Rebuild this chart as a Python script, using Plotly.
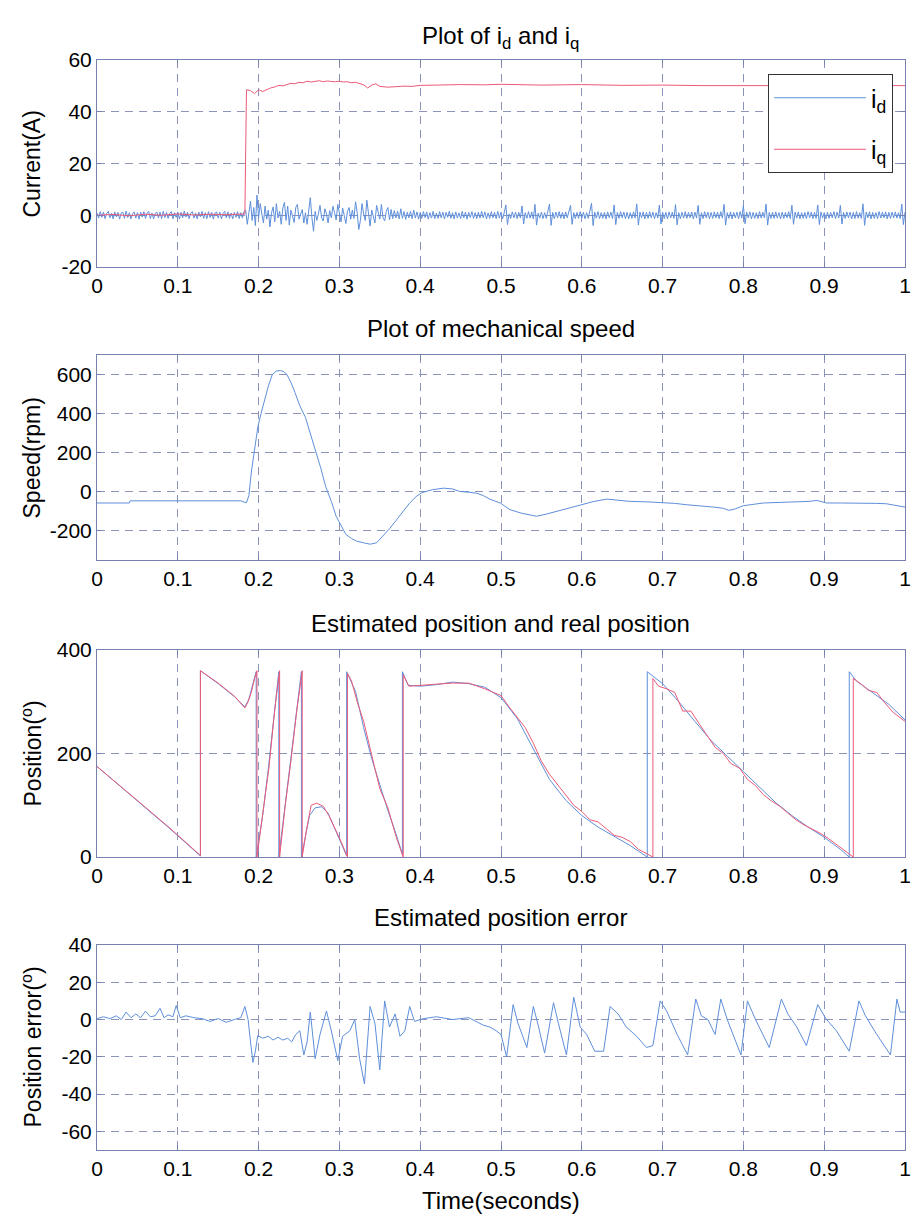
import numpy as np
import plotly.graph_objects as go

# ---------------- data ----------------
# i_d current, sampled every 0.002 s from 0 to 1 s (one row = 0.04 s)
I_D = [
    0.9, -1.1, 1.4, -0.8, 1.2, -1.3, 0.7, 1.5, -1.0, 0.8, -1.4, 1.3, -0.6, 1.1, -1.5, 0.9, 1.2, -1.2, 1.6, -0.9,
    1.0, -1.4, 0.6, 1.3, -1.1, 1.0, -1.5, 1.2, -0.7, 1.4, -1.2, 0.8, 1.5, -1.3, 0.9, -1.4, 0.6, 1.3, -1.0, 1.2,
    -1.3, 1.5, -0.9, 1.1, -1.2, 0.7, 1.4, -1.4, 1.0, -0.8, 1.3, -1.5, 1.1, -1.0, 1.6, -0.7, 1.2, -1.3, 0.8, 1.4,
    -1.1, 0.9, -1.4, 1.2, -0.6, 1.5, -1.2, 1.0, -1.3, 1.4, -0.9, 1.1, -1.5, 0.8, 1.3, -1.1, 1.2, -1.4, 0.7, 1.5,
    -1.0, 1.3, -1.2, 0.9, -1.4, 1.1, -0.8, 1.4, -1.3, 1.0, -1.1, 1.5, 2.0, -3.5, 1.0, 5.5, -2.0, 3.0, -4.0, 7.8,
    -1.0, 4.5, 0.5, -3.0, 3.5, -1.5, 2.0, -4.5, 1.0, 3.2, -2.5, 4.5, -1.0, 1.5, -3.5, 2.8, 5.0, -2.0, 3.5, -3.8,
    2.0, -1.0, -2.8, 3.0, 4.2, -1.5, 0.5, 2.2, -3.0, 1.0, -3.5, 2.5, 6.8, -1.0, -6.2, 1.5, -2.0, 0.5, 3.8, -1.0,
    -2.2, 2.5, 0.5, -3.0, 1.8, -1.0, 3.5, 1.0, -1.8, 4.2, 0.5, -2.5, 2.8, -1.0, -3.2, 1.5, 3.0, -1.5, 2.0, -1.2,
    5.2, 1.0, -5.5, -2.0, 4.5, 0.5, -2.0, 5.8, 1.0, -4.2, 2.0, -1.0, -3.0, 3.8, 0.5, -1.5, 4.2, -1.0, -2.2, 1.5,
    3.0, -1.8, 2.2, -1.3, 1.8, -1.0, 1.6, -1.4, 2.5, -1.2, 1.4, -1.6, 1.2, -1.0, 1.5, -1.3, 2.0, -1.1, 1.3, -1.5,
    1.1, -1.2, 1.4, -0.9, 1.3, -1.5, 1.0, -1.1, 1.5, -1.3, 0.8, -1.2, 1.4, -1.0, 1.2, -1.4, 1.1, -0.8, 1.5, -1.2,
    1.0, -1.4, 1.3, -1.1, 0.9, -1.3, 1.5, -1.0, 1.2, -1.5, 1.1, -0.9, 1.4, -1.2, 1.0, -1.3, 1.2, -1.1, 1.5, -1.0,
    1.3, -1.4, 0.9, -1.2, 1.4, -1.0, 1.1, -1.3, 1.5, -1.1, 1.2, -1.4, 1.0, 4.0, -3.6, 0.5, -1.2, 1.3, -1.0, 1.2,
    -1.3, 1.1, -1.0, 3.6, -3.4, 1.0, -1.2, 1.4, -1.1, 1.3, -1.4, 4.2, -3.8, 0.8, -1.1, 1.2, -1.3, 1.0, -1.2, 1.4,
    4.3, -3.9, 1.1, -1.3, 1.2, -1.0, 1.4, -1.2, 1.1, -1.4, 1.3, -1.0, 1.2, 3.8, -3.5, 1.0, -1.3, 1.1, -1.2, 1.4,
    -1.1, 1.2, -1.4, 1.0, -1.2, 1.3, 4.6, -4.0, 1.2, -1.1, 1.4, -1.3, 1.0, -1.2, 1.1, -1.4, 1.3, -1.0, 1.2, -1.3,
    4.0, -3.6, 1.1, -1.2, 1.4, -1.0, 1.2, -1.3, 1.1, -1.4, 1.0, -1.2, 1.3, -1.1, 4.4, -3.8, 1.2, -1.0, 1.3, -1.4,
    1.1, -1.2, 1.4, -1.0, 1.2, -1.3, 1.0, -1.1, 3.9, -3.4, 1.2, -1.3, 1.1, -1.4, 1.3, -1.0, 1.2, -1.2, 4.1, -3.7,
    1.0, -1.3, 1.2, -1.1, 1.4, -1.2, 1.1, -1.0, 1.3, -1.4, 1.2, -1.1, 3.8, -3.5, 1.0, -1.3, 1.4, -1.0, 1.2, -1.4,
    1.1, -1.2, 1.3, -1.0, 1.2, -1.3, 1.4, -1.1, 4.2, -3.8, 1.0, -1.2, 1.3, -1.4, 1.1, -1.0, 1.2, -1.3, 1.4, -1.1,
    3.7, -3.3, 1.2, -1.0, 1.3, -1.4, 1.1, -1.2, 1.0, -1.3, 1.4, -1.1, 1.2, -1.0, 4.3, -3.8, 1.1, -1.3, 1.2, -1.2,
    1.3, -1.1, 1.0, -1.4, 1.2, -1.2, 1.1, -1.0, 1.4, -1.3, 3.9, -3.5, 1.2, -1.1, 1.3, -1.4, 1.0, -1.2, 1.1, -1.3,
    1.4, -1.0, 1.2, -1.3, 1.1, -1.2, 4.0, -3.6, 1.3, -1.1, 1.0, -1.4, 1.2, -1.2, 1.1, -1.0, 1.4, -1.3, 1.2, -1.1,
    3.8, -3.4, 1.1, -1.2, 1.3, -1.0, 1.2, -1.4, 1.1, -1.3, 1.4, -1.1, 1.0, -1.2, 4.4, -3.9, 1.2, -1.0, 1.3, -1.4,
    1.1, -1.2, 1.0, -1.3, 1.4, -1.1, 1.2, -1.0, 1.3, -1.4, 1.1, -1.2, 1.2, -1.0, 1.3, -1.1, 1.0, -1.3, 4.3, -3.6,
    1.2,
]
T_ID = np.round(np.arange(len(I_D)) * 0.002, 3)

T_IQ = [0, 0.02, 0.04, 0.06, 0.08, 0.10, 0.12, 0.14, 0.16, 0.183, 0.185,
        0.19, 0.195, 0.2, 0.205, 0.21, 0.215, 0.22, 0.225, 0.23, 0.235,
        0.24, 0.245, 0.25, 0.255, 0.26, 0.265, 0.27, 0.275, 0.28, 0.285,
        0.29, 0.295, 0.3, 0.305, 0.31, 0.315, 0.32, 0.325, 0.33, 0.335,
        0.34, 0.345, 0.35, 0.36, 0.37, 0.38, 0.39, 0.4, 0.42, 0.45, 0.48,
        0.5, 0.55, 0.6, 0.65, 0.7, 0.75, 0.8, 0.85, 0.9, 0.95, 1.0]
I_Q = [0.0, 0.3, -0.2, 0.4, 0.0, 0.5, 0.1, 0.4, 0.2, 0.5, 48.5,
       48.2, 47.0, 48.5, 47.8, 48.6, 49.2, 49.6, 50.2, 50.0, 50.6,
       51.0, 50.8, 51.4, 51.2, 51.8, 51.5, 51.9, 52.0, 51.6, 51.9,
       51.7, 51.6, 51.8, 51.5, 51.6, 51.2, 51.4, 51.0, 50.4, 49.2,
       50.3, 50.8, 49.8, 49.5, 49.7, 49.9, 49.8, 50.2, 50.3, 50.5, 50.4,
       50.6, 50.3, 50.5, 50.2, 50.3, 50.1, 50.2, 50.1, 50.1, 50.0, 50.1]

T_SPD = [0, 0.02, 0.04, 0.041, 0.08, 0.12, 0.16, 0.178, 0.185, 0.188,
         0.191, 0.195, 0.199, 0.203, 0.207, 0.212, 0.217, 0.222, 0.227, 0.231,
         0.235, 0.24, 0.245, 0.251, 0.258, 0.264, 0.27, 0.277, 0.283, 0.29,
         0.296, 0.302, 0.308, 0.315, 0.321, 0.33, 0.338, 0.346, 0.354, 0.362,
         0.371, 0.379, 0.387, 0.395, 0.402, 0.415, 0.429, 0.44, 0.449, 0.46,
         0.47, 0.478, 0.486, 0.499, 0.511, 0.525, 0.544, 0.556, 0.569, 0.584,
         0.598, 0.615, 0.631, 0.645, 0.66, 0.68, 0.697, 0.715, 0.73, 0.75,
         0.763, 0.775, 0.782, 0.79, 0.8, 0.812, 0.825, 0.845, 0.866, 0.88,
         0.891, 0.897, 0.903, 0.92, 0.948, 0.965, 0.977, 0.99, 1.0]
SPD = [-58, -58, -58, -47, -47, -47, -47, -47, -57, -20,
       100, 212, 330, 400, 465, 540, 600, 618, 620, 615,
       600, 560, 508, 440, 380, 300, 212, 120, 26, -50,
       -126, -175, -219, -240, -253, -262, -269, -262, -227, -190,
       -143, -100, -58, -25, -5, 10, 18, 14, 1, -3,
       -8, -20, -38, -58, -92, -110, -126, -115, -100, -85,
       -67, -50, -38, -45, -50, -52, -55, -60, -67, -72,
       -79, -85, -96, -88, -72, -65, -58, -55, -53, -50,
       -45, -52, -58, -58, -58, -60, -62, -70, -79]

T_POS_REAL = [0, 0.03, 0.06, 0.09, 0.128, 0.128, 0.15, 0.17, 0.183, 0.188,
              0.193, 0.197, 0.197, 0.205, 0.212, 0.219, 0.225, 0.225, 0.232, 0.239,
              0.246, 0.253, 0.253, 0.258, 0.263, 0.27, 0.278, 0.286, 0.293, 0.3,
              0.309, 0.309, 0.32, 0.33, 0.34, 0.35, 0.36, 0.37, 0.378, 0.378,
              0.385, 0.4, 0.42, 0.44, 0.46, 0.48, 0.5, 0.52, 0.54, 0.56,
              0.58, 0.6, 0.62, 0.64, 0.66, 0.681, 0.681, 0.7, 0.72, 0.74,
              0.76, 0.78, 0.8, 0.82, 0.84, 0.86, 0.88, 0.9, 0.92, 0.931,
              0.931, 0.94, 0.96, 0.98, 1.0]
POS_REAL = [175, 135, 95, 55, 2, 360, 335, 310, 290, 305,
            335, 358, 0, 80, 170, 270, 358, 0, 90, 180,
            270, 358, 0, 40, 80, 95, 97, 85, 60, 35,
            2, 358, 320, 250, 190, 140, 90, 45, 5, 358,
            332, 330, 333, 338, 335, 328, 308, 268, 210, 150,
            110, 80, 58, 40, 22, 0, 358, 335, 300, 262,
            225, 195, 165, 135, 105, 80, 58, 38, 15, 0,
            358, 340, 318, 295, 265]

T_POS_EST = [0, 0.03, 0.06, 0.09, 0.128, 0.128, 0.15, 0.17, 0.183, 0.187,
             0.191, 0.195, 0.198, 0.198, 0.206, 0.213, 0.22, 0.226, 0.226, 0.233,
             0.24, 0.247, 0.254, 0.254, 0.259, 0.265, 0.272, 0.28, 0.287, 0.294,
             0.302, 0.31, 0.31, 0.315, 0.322, 0.33, 0.34, 0.35, 0.36, 0.37,
             0.379, 0.379, 0.386, 0.4, 0.42, 0.44, 0.46, 0.48, 0.5, 0.51,
             0.52, 0.53, 0.54, 0.55, 0.56, 0.57, 0.58, 0.59, 0.6, 0.61,
             0.62, 0.63, 0.64, 0.65, 0.66, 0.67, 0.688, 0.688, 0.695, 0.705,
             0.715, 0.725, 0.735, 0.745, 0.755, 0.765, 0.775, 0.785, 0.795, 0.805,
             0.815, 0.825, 0.835, 0.845, 0.855, 0.865, 0.875, 0.885, 0.895, 0.905,
             0.915, 0.925, 0.936, 0.936, 0.945, 0.955, 0.965, 0.975, 0.985, 1.0]
POS_EST = [175, 136, 96, 56, 3, 360, 336, 311, 288, 300,
           318, 345, 360, 0, 95, 175, 285, 360, 0, 100,
           185, 280, 360, 0, 50, 100, 104, 98, 80, 58,
           30, 0, 355, 340, 300, 262, 198, 132, 95, 40,
           0, 352, 330, 332, 334, 336, 336, 325, 312, 290,
           270, 250, 220, 185, 160, 140, 120, 100, 88, 72,
           68, 55, 42, 38, 30, 15, 0, 345, 330, 325,
           318, 282, 282, 258, 235, 212, 200, 180, 172, 150,
           138, 120, 108, 98, 85, 72, 62, 54, 46, 36,
           24, 12, 0, 345, 335, 322, 318, 298, 280, 262]

T_ERR = [0.000, 0.008, 0.016, 0.024, 0.030, 0.036, 0.042, 0.048, 0.054, 0.060,
         0.066, 0.072, 0.078, 0.083, 0.088, 0.094, 0.098, 0.103, 0.110, 0.120,
         0.130, 0.140, 0.150, 0.160, 0.170, 0.178, 0.183, 0.187, 0.190, 0.193,
         0.196, 0.199, 0.205, 0.212, 0.218, 0.224, 0.230, 0.236, 0.241, 0.246,
         0.251, 0.256, 0.260, 0.264, 0.270, 0.276, 0.284, 0.290, 0.298, 0.304,
         0.313, 0.319, 0.325, 0.331, 0.338, 0.344, 0.350, 0.356, 0.362, 0.369,
         0.375, 0.381, 0.387, 0.393, 0.404, 0.420, 0.440, 0.460, 0.478, 0.486,
         0.494, 0.500, 0.507, 0.515, 0.521, 0.532, 0.540, 0.546, 0.554, 0.565,
         0.571, 0.581, 0.590, 0.594, 0.598, 0.606, 0.616, 0.627, 0.635, 0.645,
         0.655, 0.668, 0.680, 0.688, 0.697, 0.705, 0.718, 0.731, 0.741, 0.748,
         0.756, 0.765, 0.772, 0.780, 0.797, 0.805, 0.815, 0.832, 0.847, 0.855,
         0.866, 0.878, 0.892, 0.902, 0.915, 0.931, 0.943, 0.951, 0.965, 0.982,
         0.990, 0.994, 1.000]
ERR = [0.5, 1.5, 0.5, 2.0, 0.0, 4.0, 1.0, 3.0, 1.0, 4.5,
       1.5, 2.0, 6.0, 1.0, 2.5, 1.5, 7.5, 1.0, 2.0, 1.0,
       0.5, -1.0, 0.5, -1.5, 0.0, 1.0, 7.0, 0.0, -12.0, -23.0,
       -17.0, -8.6, -10.0, -9.0, -11.0, -9.5, -11.0, -10.0, -12.0, -8.0,
       -6.0, -19.0, -12.0, 4.0, -21.0, -8.0, 4.6, -6.0, -22.0, -9.0,
       -6.0, 0.0, -21.0, -34.5, 7.0, -2.0, -27.0, 10.0, -4.0, 3.0,
       -9.0, -6.0, 7.0, -1.0, 0.5, 1.5, 0.0, 1.0, -3.0, -4.0,
       -6.0, -8.0, -20.0, 8.0, -2.0, -15.0, 7.0, -3.0, -18.0, 9.0,
       -2.0, -19.0, 12.0, 3.0, -4.0, -8.0, -17.0, -17.0, 7.0, 3.0,
       -4.0, -9.0, -15.0, -14.0, 10.0, 4.6, -8.0, -19.0, 11.0, 2.0,
       0.0, -8.0, 11.0, 0.0, -19.0, 10.0, 0.0, -15.0, 11.0, 3.0,
       -4.0, -14.0, 8.0, 0.5, -6.0, -17.0, 10.0, 2.0, -8.0, -19.0,
       11.0, 4.0, 4.0]

X_TICKS = [0, 0.1, 0.2, 0.3, 0.4, 0.5, 0.6, 0.7, 0.8, 0.9, 1]
X_TICK_TEXT = ["0", "0.1", "0.2", "0.3", "0.4", "0.5", "0.6", "0.7", "0.8", "0.9", "1"]
Y_TICKS = [[-20, 0, 20, 40, 60],
           [-200, 0, 200, 400, 600],
           [0, 200, 400],
           [-60, -40, -20, 0, 20, 40]]
Y_RANGES = [[-20, 60], [-350, 700], [0, 400], [-70, 40]]
TITLES = ["Plot of i<sub>d</sub> and i<sub>q</sub>",
          "Plot of mechanical speed",
          "Estimated position and real position",
          "Estimated position error"]
Y_LABELS = ["Current(A)", "Speed(rpm)", "Position(<sup>o</sup>)", "Position error(<sup>o</sup>)"]
X_LABEL = "Time(seconds)"

# ---------------- style ----------------
W, H = 915, 1219
X0, X1 = 97, 905
ROWS = [(60, 267), (355, 560), (650, 857), (945, 1150)]
TITLE_Y = [38, 328, 623, 917]
BLUE = "#5e8fda"
RED = "#ec5a78"
GRID = "#8c93b8"
FRAME = "#7681b0"
FONT = "Liberation Sans, Arial, Helvetica, sans-serif"

fig = go.Figure()

fig.add_trace(go.Scatter(x=T_ID, y=I_D, mode="lines", name="i<sub>d</sub>",
                         line=dict(color=BLUE, width=1), xaxis="x", yaxis="y",
                         legendgroup="d"))
fig.add_trace(go.Scatter(x=T_IQ, y=I_Q, mode="lines", name="i<sub>q</sub>",
                         line=dict(color=RED, width=1), xaxis="x", yaxis="y",
                         legendgroup="q"))
fig.add_trace(go.Scatter(x=T_SPD, y=SPD, mode="lines", showlegend=False,
                         line=dict(color=BLUE, width=1), xaxis="x2", yaxis="y2"))
fig.add_trace(go.Scatter(x=T_POS_REAL, y=POS_REAL, mode="lines", showlegend=False,
                         line=dict(color=BLUE, width=1), xaxis="x3", yaxis="y3"))
fig.add_trace(go.Scatter(x=T_POS_EST, y=POS_EST, mode="lines", showlegend=False,
                         line=dict(color=RED, width=1), xaxis="x3", yaxis="y3"))
fig.add_trace(go.Scatter(x=T_ERR, y=ERR, mode="lines", showlegend=False,
                         line=dict(color=BLUE, width=1), xaxis="x4", yaxis="y4"))

layout = dict(
    width=W, height=H,
    margin=dict(l=0, r=0, t=0, b=0, autoexpand=False),
    paper_bgcolor="white", plot_bgcolor="white",
    font=dict(family=FONT, color="black"),
    legend=dict(x=893 / W, xanchor="right", y=1 - 74 / H, yanchor="top",
                bgcolor="white", bordercolor="#333333", borderwidth=1,
                font=dict(size=25, family=FONT), tracegroupgap=16,
                itemwidth=92),
)
annotations = []
for i, (top, bot) in enumerate(ROWS):
    n = "" if i == 0 else str(i + 1)
    common = dict(showgrid=True, gridcolor=GRID, griddash="8px,6px", gridwidth=1,
                  showline=True, linecolor=FRAME, linewidth=1, mirror="allticks",
                  ticks="inside", ticklen=5, tickcolor=FRAME, zeroline=False,
                  automargin=False,
                  tickfont=dict(size=21, family=FONT, color="black"))
    layout["xaxis" + n] = dict(domain=[X0 / W, X1 / W], anchor="y" + n,
                               range=[0, 1], tickvals=X_TICKS, ticktext=X_TICK_TEXT,
                               **common)
    layout["yaxis" + n] = dict(domain=[1 - bot / H, 1 - top / H], anchor="x" + n,
                               range=Y_RANGES[i], tickvals=Y_TICKS[i],
                               ticktext=[str(v) for v in Y_TICKS[i]], **common)
    annotations.append(dict(text=TITLES[i], x=(X0 + X1) / 2 / W, y=1 - TITLE_Y[i] / H,
                            xref="paper", yref="paper", showarrow=False,
                            xanchor="center", yanchor="middle",
                            font=dict(size=24, family=FONT, color="black")))
    annotations.append(dict(text=Y_LABELS[i], x=31 / W, y=1 - (top + bot) / 2 / H,
                            xref="paper", yref="paper", showarrow=False,
                            textangle=-90, xanchor="center", yanchor="middle",
                            font=dict(size=23, family=FONT, color="black")))
annotations.append(dict(text=X_LABEL, x=(X0 + X1) / 2 / W, y=1 - 1200 / H,
                        xref="paper", yref="paper", showarrow=False,
                        xanchor="center", yanchor="middle",
                        font=dict(size=24, family=FONT, color="black")))
layout["annotations"] = annotations
fig.update_layout(**layout)

fig.write_html("out.html",
               config={"displayModeBar": False},
               post_script="document.body.style.margin='0';"
                           "document.body.style.padding='0';"
                           "document.body.style.overflow='hidden';")
